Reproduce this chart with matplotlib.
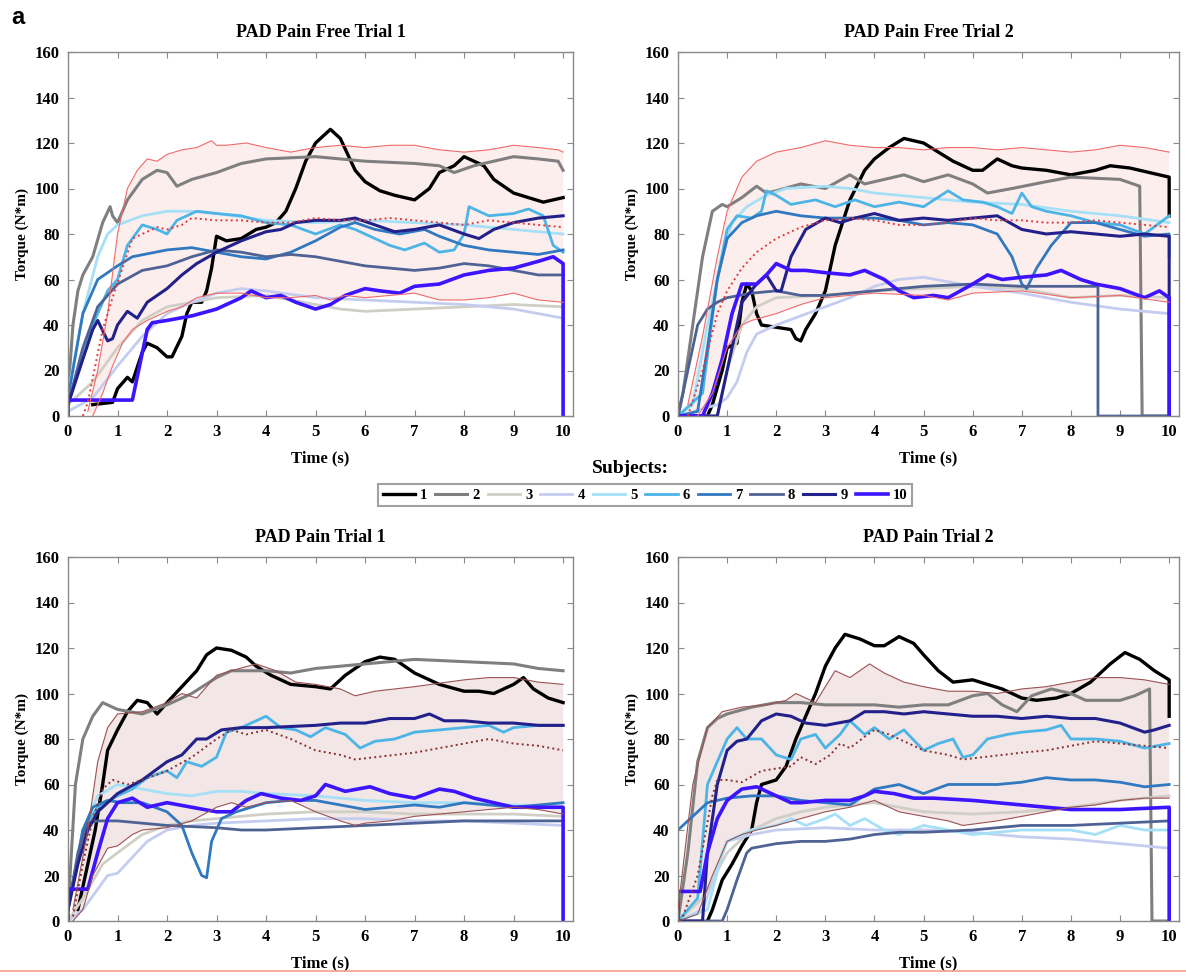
import matplotlib
matplotlib.use("Agg")
import matplotlib.pyplot as plt
from matplotlib.lines import Line2D

# ---------------- data: (time s, torque N*m) pairs ----------------
titles = ["PAD Pain Free Trial 1", "PAD Pain Free Trial 2", "PAD Pain Trial 1", "PAD Pain Trial 2"]
subjects = ["1", "2", "3", "4", "5", "6", "7", "8", "9", "10"]

# --- Pain Free Trial 1
pf1_upper = [(0.4, 2), (0.6, 20), (0.8, 45), (1.0, 80), (1.2, 100), (1.4, 108), (1.6, 113), (1.8, 112),
             (2.0, 115), (2.3, 117), (2.6, 118), (2.9, 121), (3.0, 119), (3.2, 119), (3.6, 120), (4.0, 118),
             (4.5, 116), (5.0, 118), (5.5, 119), (6.0, 118), (6.5, 119), (7.0, 119), (7.5, 117), (8.0, 116),
             (8.5, 117), (9.0, 119), (9.5, 118), (9.9, 117), (10.0, 116)]
pf1_lower = [(0.5, 0), (0.7, 10), (0.9, 22), (1.1, 32), (1.3, 38), (1.6, 42), (2.0, 46), (2.3, 48),
             (2.6, 52), (3.0, 54), (3.5, 54), (4.0, 52), (4.5, 52), (5.0, 53), (5.3, 51), (5.6, 53),
             (6.0, 52), (6.5, 53), (7.0, 54), (7.5, 51), (8.0, 51), (8.5, 52), (9.0, 54), (9.5, 51), (10.0, 50)]
pf1_mean = [(0.3, 0), (0.4, 6), (0.7, 38), (0.9, 52), (1.1, 65), (1.3, 78), (1.5, 80), (1.8, 83), (2.0, 82),
            (2.3, 84), (2.5, 87), (3.0, 86), (3.5, 86), (4.0, 85), (4.5, 85), (5.0, 87), (5.5, 86), (6.0, 86),
            (6.5, 87), (7.0, 86), (7.5, 85), (8.0, 84), (8.5, 86), (9.0, 85), (9.5, 84), (10.0, 83)]
pf1_s1 = [(0.5, 5), (0.9, 6), (1.0, 12), (1.2, 17), (1.3, 15), (1.5, 28), (1.6, 32), (1.8, 30), (2.0, 26),
          (2.1, 26), (2.3, 35), (2.4, 45), (2.5, 50), (2.7, 50), (2.8, 55), (2.9, 65), (3.0, 79), (3.2, 77),
          (3.5, 78), (3.8, 82), (4.0, 83), (4.2, 85), (4.4, 90), (4.6, 100), (4.8, 112), (5.0, 120), (5.3, 126),
          (5.5, 122), (5.8, 108), (6.0, 103), (6.3, 99), (6.6, 97), (7.0, 95), (7.3, 100), (7.5, 107),
          (7.8, 110), (8.0, 114), (8.2, 112), (8.4, 110), (8.6, 104), (9.0, 98), (9.3, 96), (9.6, 94),
          (9.8, 95), (10.0, 96)]
pf1_s2 = [(0.0, 10), (0.1, 40), (0.2, 55), (0.3, 62), (0.5, 70), (0.7, 85), (0.85, 92), (0.9, 88), (1.0, 85),
          (1.2, 95), (1.5, 104), (1.8, 108), (2.0, 107), (2.2, 101), (2.5, 104), (3.0, 107), (3.5, 111),
          (4.0, 113), (5.0, 114), (6.0, 112), (7.0, 111), (7.5, 110), (7.8, 107), (8.2, 110), (9.0, 114),
          (9.5, 113), (9.9, 112), (10.0, 108)]
pf1_s3 = [(0.0, 5), (0.5, 15), (1.0, 30), (1.5, 42), (2.0, 48), (3.0, 52), (4.0, 53), (5.0, 49), (5.5, 47),
          (6.0, 46), (7.0, 47), (8.0, 48), (9.0, 49), (10.0, 48)]
pf1_s4 = [(0.0, 2), (0.5, 8), (1.0, 22), (1.5, 35), (2.0, 45), (2.5, 50), (3.0, 54), (3.5, 56), (4.0, 55),
          (5.0, 52), (6.0, 51), (7.0, 50), (8.0, 49), (9.0, 47), (10.0, 43)]
pf1_s5 = [(0.0, 10), (0.3, 45), (0.6, 70), (0.8, 80), (1.0, 84), (1.5, 88), (2.0, 90), (2.5, 90), (3.0, 89),
          (4.0, 86), (5.0, 85), (6.0, 86), (7.0, 85), (8.0, 84), (9.0, 82), (10.0, 80)]
pf1_s6 = [(0.0, 5), (0.5, 40), (0.8, 55), (1.0, 60), (1.2, 75), (1.5, 84), (1.8, 82), (2.0, 80), (2.2, 86),
          (2.6, 90), (3.0, 89), (3.5, 88), (4.0, 85), (4.5, 84), (5.0, 80), (5.5, 84), (5.8, 82), (6.2, 78),
          (6.5, 75), (6.8, 73), (7.2, 76), (7.5, 72), (7.8, 73), (8.0, 80), (8.1, 92), (8.3, 90), (8.5, 88),
          (9.0, 89), (9.3, 91), (9.6, 88), (9.8, 75), (10.0, 72)]
pf1_s7 = [(0.0, 8), (0.3, 45), (0.6, 60), (1.0, 66), (1.3, 70), (2.0, 73), (2.5, 74), (3.0, 72), (3.5, 70),
          (4.0, 69), (4.5, 72), (5.0, 77), (5.5, 83), (5.8, 85), (6.2, 82), (6.7, 80), (7.2, 82), (7.5, 79),
          (8.0, 75), (8.5, 73), (9.0, 72), (9.5, 71), (10.0, 73)]
pf1_s8 = [(0.0, 5), (0.3, 30), (0.6, 48), (1.0, 58), (1.5, 64), (2.0, 66), (2.5, 70), (3.0, 73), (3.5, 72),
          (4.0, 70), (4.5, 71), (5.0, 70), (5.5, 68), (6.0, 66), (6.5, 65), (7.0, 64), (7.5, 65), (8.0, 67),
          (8.5, 66), (9.0, 64), (9.5, 62), (10.0, 62)]
pf1_s9 = [(0.0, 5), (0.3, 25), (0.5, 38), (0.6, 42), (0.8, 33), (0.9, 34), (1.0, 40), (1.2, 46), (1.4, 43),
          (1.6, 50), (2.0, 56), (2.3, 62), (2.6, 67), (3.0, 72), (3.5, 77), (4.0, 81), (4.3, 82), (4.6, 85),
          (5.0, 86), (5.5, 86), (5.8, 87), (6.2, 84), (6.6, 81), (7.0, 82), (7.5, 84), (8.0, 80), (8.3, 78),
          (8.6, 82), (9.0, 85), (9.5, 87), (10.0, 88)]
pf1_s10 = [(0.0, 0), (0.0, 7), (1.3, 7), (1.6, 38), (1.7, 41), (2.0, 42), (2.5, 44), (3.0, 47), (3.5, 52),
           (3.7, 55), (4.0, 52), (4.3, 53), (4.6, 50), (5.0, 47), (5.3, 49), (5.6, 53), (6.0, 56), (6.3, 55),
           (6.7, 54), (7.0, 57), (7.5, 58), (8.0, 62), (8.5, 64), (9.0, 65), (9.5, 68), (9.8, 70), (10.0, 67),
           (10.0, 0)]

# --- Pain Free Trial 2
pf2_upper = [(0.2, 5), (0.5, 35), (0.8, 70), (1.0, 90), (1.3, 105), (1.6, 112), (2.0, 116), (2.5, 118),
             (3.0, 121), (3.5, 119), (4.0, 118), (4.5, 118), (5.0, 117), (5.5, 118), (6.0, 118), (6.5, 117),
             (7.0, 118), (7.5, 117), (8.0, 116), (8.5, 117), (9.0, 119), (9.5, 118), (10.0, 116)]
pf2_lower = [(0.4, 0), (0.7, 10), (1.0, 30), (1.3, 40), (1.5, 42), (2.0, 45), (2.5, 49), (3.0, 52),
             (4.0, 54), (5.0, 53), (5.5, 51), (6.0, 54), (7.0, 55), (8.0, 52), (9.0, 53), (10.0, 50)]
pf2_mean = [(0.2, 0), (0.5, 20), (0.8, 45), (1.0, 55), (1.3, 65), (1.6, 72), (2.0, 78), (2.5, 83), (3.0, 86),
            (3.5, 87), (4.0, 86), (4.5, 84), (5.0, 84), (5.5, 85), (6.0, 87), (6.5, 86), (7.0, 86), (7.5, 85),
            (8.0, 85), (8.5, 86), (9.0, 85), (9.5, 84), (10.0, 83)]
pf2_s1 = [(0.0, 0), (0.6, 0), (0.7, 5), (0.9, 20), (1.0, 30), (1.2, 32), (1.3, 50), (1.4, 58), (1.5, 55),
          (1.6, 45), (1.7, 40), (2.0, 39), (2.3, 38), (2.4, 34), (2.5, 33), (2.6, 38), (2.8, 45), (3.0, 55),
          (3.2, 75), (3.5, 95), (3.8, 108), (4.0, 113), (4.3, 118), (4.6, 122), (4.8, 121), (5.0, 120),
          (5.3, 116), (5.6, 112), (6.0, 108), (6.2, 108), (6.5, 113), (6.8, 110), (7.0, 109), (7.5, 108),
          (8.0, 106), (8.5, 108), (8.8, 110), (9.2, 109), (9.6, 107), (10.0, 105), (10.0, 88)]
pf2_s2 = [(0.0, 0), (0.1, 10), (0.3, 40), (0.5, 70), (0.7, 90), (0.9, 93), (1.0, 92), (1.3, 96), (1.6, 101),
          (1.8, 98), (2.0, 99), (2.5, 102), (3.0, 100), (3.5, 106), (3.8, 102), (4.2, 104), (4.6, 106),
          (5.0, 103), (5.5, 106), (6.0, 102), (6.3, 98), (6.8, 100), (7.5, 103), (8.0, 105), (9.0, 104),
          (9.4, 101), (9.45, 0), (10.0, 0)]
pf2_s3 = [(0.0, 0), (0.8, 0), (1.0, 20), (1.3, 40), (1.6, 48), (2.0, 52), (3.0, 53), (4.0, 55), (5.0, 56),
          (6.0, 57), (7.0, 56), (8.0, 52), (9.0, 53), (10.0, 52)]
pf2_s4 = [(0.0, 0), (0.8, 5), (1.0, 8), (1.2, 15), (1.4, 28), (1.6, 36), (2.0, 40), (2.5, 44), (3.0, 48),
          (3.5, 52), (4.0, 57), (4.5, 60), (5.0, 61), (6.0, 57), (7.0, 54), (8.0, 50), (9.0, 47), (10.0, 45)]
pf2_s5 = [(0.0, 0), (0.3, 5), (0.6, 40), (0.9, 70), (1.1, 85), (1.4, 92), (1.8, 97), (2.2, 100), (3.0, 101),
          (3.5, 100), (4.0, 98), (5.0, 96), (6.0, 94), (7.0, 93), (8.0, 90), (9.0, 88), (10.0, 85)]
pf2_s6 = [(0.0, 0), (0.5, 10), (0.8, 60), (1.0, 82), (1.2, 88), (1.5, 87), (1.7, 90), (1.8, 99), (2.0, 97),
          (2.3, 93), (2.8, 95), (3.2, 92), (3.6, 95), (4.0, 92), (4.5, 94), (5.0, 92), (5.5, 99), (5.8, 95),
          (6.2, 94), (6.5, 92), (6.8, 89), (7.0, 98), (7.2, 92), (7.5, 90), (8.0, 88), (8.5, 85), (9.0, 84),
          (9.5, 80), (10.0, 88)]
pf2_s7 = [(0.0, 0), (0.4, 2), (0.6, 30), (0.8, 60), (1.0, 78), (1.3, 85), (1.6, 88), (2.0, 90), (2.5, 88),
          (3.0, 87), (3.5, 87), (4.0, 87), (4.5, 86), (5.0, 84), (5.5, 85), (6.0, 84), (6.5, 80), (6.8, 70),
          (7.0, 58), (7.1, 56), (7.3, 65), (7.6, 75), (8.0, 85), (8.5, 85), (9.0, 82), (9.5, 79), (10.0, 80),
          (10.0, 70)]
pf2_s8 = [(0.0, 0), (0.2, 20), (0.4, 40), (0.6, 47), (0.8, 50), (1.0, 52), (1.5, 54), (2.0, 55), (2.5, 53),
          (3.0, 53), (4.0, 55), (5.0, 57), (6.0, 58), (7.0, 57), (8.0, 57), (8.55, 57), (8.55, 0), (10.0, 0)]
pf2_s9 = [(0.0, 0), (0.8, 0), (1.0, 20), (1.3, 50), (1.6, 58), (1.8, 62), (2.0, 55), (2.1, 55), (2.3, 70),
          (2.6, 82), (3.0, 87), (3.3, 85), (3.6, 87), (4.0, 89), (4.5, 86), (5.0, 87), (5.5, 86), (6.0, 87),
          (6.5, 88), (7.0, 82), (7.5, 80), (8.0, 81), (8.5, 80), (9.0, 79), (9.5, 80), (10.0, 79), (10.0, 0)]
pf2_s10 = [(0.0, 0), (0.5, 0), (0.7, 10), (0.9, 25), (1.1, 45), (1.3, 58), (1.6, 58), (1.8, 62), (2.0, 67),
           (2.3, 64), (2.6, 64), (3.0, 63), (3.5, 62), (3.8, 64), (4.2, 60), (4.5, 55), (4.8, 52), (5.2, 53),
           (5.5, 52), (6.0, 58), (6.3, 62), (6.6, 60), (7.0, 61), (7.5, 62), (7.8, 64), (8.2, 60), (8.5, 58),
           (9.0, 56), (9.5, 52), (9.8, 55), (10.0, 52), (10.0, 0)]

# --- Pain Trial 1
p1_upper = [(0.1, 5), (0.4, 40), (0.6, 70), (0.8, 85), (1.0, 91), (1.5, 92), (2.0, 96), (2.3, 100), (2.6, 98),
            (3.0, 108), (3.3, 110), (3.8, 113), (4.2, 110), (4.6, 105), (5.0, 104), (5.5, 102), (5.8, 99),
            (6.2, 101), (7.0, 103), (8.0, 106), (8.5, 107), (9.0, 107), (9.5, 105), (10.0, 104)]
p1_lower = [(0.1, 0), (0.3, 5), (0.5, 20), (0.8, 32), (1.0, 33), (1.3, 38), (1.5, 40), (2.0, 41), (2.5, 44),
            (3.0, 50), (3.3, 52), (3.6, 50), (4.0, 52), (4.5, 53), (5.0, 48), (5.5, 44), (5.8, 42), (6.0, 43),
            (6.5, 44), (7.0, 46), (7.5, 47), (8.0, 48), (8.5, 49), (9.0, 50), (9.5, 49), (10.0, 47)]
p1_mean = [(0.1, 2), (0.3, 25), (0.5, 45), (0.7, 58), (0.9, 62), (1.2, 60), (1.5, 62), (2.0, 66), (2.5, 72),
           (3.0, 80), (3.3, 84), (3.6, 82), (4.0, 84), (4.5, 80), (5.0, 75), (5.5, 73), (5.8, 71), (6.2, 72),
           (7.0, 74), (7.5, 76), (8.0, 78), (8.5, 80), (9.0, 78), (9.5, 77), (10.0, 75)]
p1_s1 = [(0.2, 5), (0.4, 25), (0.55, 40), (0.7, 60), (0.8, 75), (1.0, 84), (1.2, 92), (1.4, 97), (1.6, 96),
         (1.8, 91), (2.0, 96), (2.3, 103), (2.6, 110), (2.8, 117), (3.0, 120), (3.3, 119), (3.6, 116),
         (3.8, 112), (4.1, 108), (4.5, 104), (5.0, 103), (5.3, 102), (5.6, 108), (6.0, 114), (6.3, 116),
         (6.6, 115), (7.0, 109), (7.5, 104), (8.0, 101), (8.3, 101), (8.6, 100), (9.0, 104), (9.2, 107),
         (9.4, 102), (9.7, 98), (10.0, 96)]
p1_s2 = [(0.0, 5), (0.15, 60), (0.3, 80), (0.5, 90), (0.7, 96), (1.0, 93), (1.5, 91), (2.0, 95), (2.5, 100),
         (3.0, 107), (3.3, 110), (4.0, 110), (4.5, 109), (5.0, 111), (6.0, 113), (7.0, 115), (8.0, 114),
         (9.0, 113), (9.5, 111), (10.0, 110)]
p1_s3 = [(0.0, 0), (0.3, 10), (0.7, 25), (1.0, 30), (1.5, 38), (2.0, 42), (2.5, 44), (3.0, 45), (4.0, 47),
         (5.0, 48), (6.0, 48), (7.0, 47), (8.0, 47), (9.0, 47), (10.0, 46)]
p1_s4 = [(0.0, 0), (0.3, 5), (0.8, 20), (1.0, 21), (1.3, 28), (1.6, 35), (2.0, 40), (2.5, 42), (3.0, 43),
         (4.0, 44), (5.0, 45), (6.0, 45), (7.0, 44), (8.0, 44), (9.0, 43), (10.0, 42)]
p1_s5 = [(0.0, 5), (0.3, 40), (0.6, 55), (1.0, 60), (1.5, 58), (2.0, 56), (2.5, 55), (3.0, 57), (3.5, 57),
         (4.0, 56), (5.0, 55), (6.0, 53), (7.0, 52), (8.0, 52), (9.0, 51), (10.0, 50)]
p1_s6 = [(0.0, 5), (0.3, 40), (0.6, 50), (1.0, 55), (1.3, 58), (1.6, 63), (2.0, 66), (2.2, 63), (2.4, 70),
         (2.7, 68), (3.0, 72), (3.2, 83), (3.5, 85), (3.8, 88), (4.0, 90), (4.3, 85), (4.6, 84), (4.9, 81),
         (5.2, 85), (5.6, 82), (5.9, 76), (6.2, 79), (6.6, 80), (7.0, 83), (7.5, 84), (8.0, 85), (8.5, 86),
         (8.8, 83), (9.0, 85), (9.5, 86), (10.0, 86)]
p1_s7 = [(0.0, 5), (0.3, 40), (0.5, 50), (0.8, 53), (1.1, 52), (1.5, 52), (2.0, 48), (2.3, 42), (2.5, 30),
         (2.7, 20), (2.8, 19), (2.9, 35), (3.1, 45), (3.4, 48), (4.0, 52), (4.5, 53), (5.0, 53), (5.5, 51),
         (6.0, 49), (6.5, 50), (7.0, 51), (7.5, 50), (8.0, 52), (8.5, 51), (9.0, 50), (9.5, 51), (10.0, 52)]
p1_s8 = [(0.0, 5), (0.2, 30), (0.4, 43), (0.6, 44), (1.0, 44), (1.5, 43), (2.0, 42), (3.0, 41), (3.5, 40),
         (4.0, 40), (5.0, 41), (6.0, 42), (7.0, 43), (8.0, 44), (9.0, 44), (10.0, 44)]
p1_s9 = [(0.0, 5), (0.2, 25), (0.4, 40), (0.6, 48), (0.8, 52), (1.0, 56), (1.5, 62), (2.0, 70), (2.3, 73),
         (2.6, 80), (2.8, 80), (3.1, 84), (3.5, 85), (4.0, 85), (5.0, 86), (5.5, 87), (6.0, 87), (6.5, 89),
         (7.0, 89), (7.3, 91), (7.6, 88), (8.0, 88), (8.5, 87), (9.0, 87), (9.5, 86), (10.0, 86)]
p1_s10 = [(0.0, 0), (0.0, 14), (0.4, 14), (0.6, 30), (0.8, 45), (1.0, 52), (1.3, 54), (1.6, 50), (2.0, 52),
          (2.5, 50), (3.0, 48), (3.3, 48), (3.6, 53), (3.9, 56), (4.3, 54), (4.7, 53), (5.0, 55), (5.2, 60),
          (5.6, 57), (6.1, 59), (6.5, 56), (7.0, 54), (7.5, 58), (7.8, 57), (8.2, 54), (8.6, 52), (9.0, 50),
          (9.5, 50), (10.0, 50), (10.0, 0)]

# --- Pain Trial 2
p2_upper = [(0.0, 5), (0.3, 60), (0.6, 85), (0.9, 92), (1.3, 94), (1.8, 95), (2.2, 97), (2.4, 100), (2.8, 96),
            (3.2, 110), (3.5, 107), (3.9, 113), (4.2, 109), (4.6, 105), (5.0, 103), (5.5, 101), (6.0, 101),
            (6.5, 100), (7.0, 102), (7.5, 103), (8.0, 105), (8.5, 107), (9.0, 107), (9.5, 106), (10.0, 104)]
p2_lower = [(0.0, 0), (0.4, 3), (0.7, 20), (1.0, 35), (1.3, 38), (1.6, 40), (2.0, 42), (2.5, 45), (3.0, 48),
            (3.5, 50), (4.0, 53), (4.5, 48), (5.0, 46), (5.5, 44), (5.8, 42), (6.5, 44), (7.0, 46), (7.5, 48),
            (8.0, 50), (8.5, 51), (9.0, 53), (9.5, 54), (10.0, 54)]
p2_mean = [(0.1, 2), (0.4, 20), (0.7, 55), (0.8, 62), (1.0, 62), (1.3, 61), (1.7, 66), (2.0, 67), (2.3, 68),
           (2.5, 72), (2.8, 69), (3.1, 73), (3.3, 78), (3.5, 76), (3.8, 81), (4.0, 84), (4.3, 82), (4.7, 78),
           (5.0, 75), (5.5, 73), (5.8, 71), (6.2, 72), (7.0, 74), (7.5, 75), (8.0, 77), (8.5, 79), (9.0, 78),
           (9.5, 77), (10.0, 76)]
p2_s1 = [(0.6, 0), (0.7, 5), (0.9, 18), (1.1, 25), (1.3, 33), (1.5, 40), (1.6, 52), (1.7, 60), (2.0, 62),
         (2.2, 68), (2.4, 80), (2.6, 90), (2.8, 100), (3.0, 112), (3.2, 120), (3.4, 126), (3.7, 124),
         (4.0, 121), (4.2, 121), (4.5, 125), (4.8, 122), (5.0, 117), (5.3, 110), (5.6, 105), (6.0, 106),
         (6.3, 104), (6.6, 102), (7.0, 98), (7.3, 97), (7.7, 98), (8.0, 100), (8.4, 105), (8.8, 113),
         (9.1, 118), (9.4, 115), (9.7, 110), (10.0, 106), (10.0, 90)]
p2_s2 = [(0.0, 0), (0.2, 30), (0.4, 70), (0.6, 85), (0.8, 89), (1.0, 91), (1.5, 94), (2.0, 96), (2.5, 96),
         (3.0, 95), (4.0, 95), (4.5, 94), (5.0, 95), (5.5, 95), (6.0, 99), (6.3, 100), (6.6, 95), (6.9, 92),
         (7.2, 99), (7.6, 102), (8.0, 100), (8.3, 97), (9.0, 97), (9.3, 99), (9.6, 102), (9.65, 0), (10.0, 0)]
p2_s3 = [(0.0, 0), (0.5, 10), (1.0, 30), (1.5, 40), (2.0, 45), (2.5, 48), (3.0, 50), (3.5, 51), (4.0, 52),
         (5.0, 48), (6.0, 47), (7.0, 48), (8.0, 50), (9.0, 53), (10.0, 55)]
p2_s4 = [(0.0, 0), (0.5, 5), (1.0, 35), (1.5, 38), (2.0, 40), (3.0, 41), (4.0, 40), (5.0, 40), (6.0, 39),
         (7.0, 37), (8.0, 36), (9.0, 34), (10.0, 32)]
p2_s5 = [(0.0, 0), (0.6, 5), (0.9, 30), (1.0, 35), (1.5, 40), (2.0, 42), (2.3, 45), (2.6, 42), (3.0, 45),
         (3.2, 47), (3.5, 42), (3.8, 45), (4.2, 40), (4.5, 38), (5.0, 42), (5.5, 40), (6.0, 38), (7.0, 40),
         (8.0, 40), (8.5, 38), (9.0, 42), (9.5, 40), (10.0, 40)]
p2_s6 = [(0.0, 0), (0.4, 10), (0.6, 60), (0.8, 70), (1.0, 80), (1.2, 85), (1.4, 80), (1.7, 80), (2.0, 73),
         (2.3, 71), (2.5, 80), (2.8, 82), (3.0, 76), (3.3, 82), (3.5, 88), (3.8, 82), (4.0, 85), (4.3, 80),
         (4.6, 84), (5.0, 75), (5.3, 78), (5.6, 80), (5.8, 72), (6.0, 73), (6.3, 80), (6.7, 82), (7.0, 83),
         (7.5, 84), (7.8, 86), (8.0, 80), (8.5, 80), (9.0, 79), (9.5, 76), (10.0, 78)]
p2_s7 = [(0.0, 40), (0.3, 46), (0.6, 52), (1.0, 54), (1.5, 55), (2.0, 55), (2.5, 53), (3.0, 52), (3.5, 51),
         (4.0, 58), (4.5, 60), (5.0, 56), (5.5, 60), (6.0, 60), (6.5, 60), (7.0, 61), (7.5, 63), (8.0, 62),
         (8.5, 62), (9.0, 61), (9.5, 59), (10.0, 60)]
p2_s8 = [(0.0, 0), (0.9, 0), (1.0, 5), (1.2, 18), (1.4, 30), (1.5, 32), (2.0, 34), (2.5, 35), (3.0, 35),
         (3.5, 36), (4.0, 38), (4.5, 39), (5.0, 39), (6.0, 40), (7.0, 42), (8.0, 42), (9.0, 43), (10.0, 44)]
p2_s9 = [(0.0, 0), (0.5, 0), (0.6, 30), (0.8, 60), (1.0, 75), (1.2, 79), (1.4, 80), (1.7, 88), (2.0, 91),
         (2.3, 90), (2.6, 87), (3.0, 86), (3.5, 88), (3.8, 92), (4.2, 92), (4.6, 91), (5.0, 92), (5.5, 91),
         (6.0, 90), (6.5, 90), (7.0, 89), (7.5, 90), (8.0, 89), (8.5, 89), (9.0, 87), (9.5, 83), (9.7, 84),
         (10.0, 86)]
p2_s10 = [(0.0, 0), (0.0, 13), (0.45, 13), (0.6, 30), (0.8, 45), (1.0, 53), (1.3, 58), (1.6, 59), (1.8, 57),
          (2.0, 55), (2.3, 52), (2.5, 52), (3.0, 53), (3.5, 53), (3.8, 55), (4.0, 57), (4.4, 56), (4.8, 54),
          (5.2, 54), (6.0, 53), (7.0, 51), (7.5, 50), (8.0, 49), (9.0, 49), (10.0, 50), (10.0, 0)]

# ---------------- styling ----------------
colors = ['#000000', '#7f7f7f', '#cfcfc6', '#c4cdf0', '#a6e0f7',
          '#4cb4e6', '#3078c0', '#4f6294', '#22208a', '#3c14ff']
widths = [2.4, 2.2, 2.0, 2.0, 2.0, 2.0, 2.0, 2.0, 2.2, 2.6]

serif = 'Liberation Serif'
plt.rcParams['font.family'] = serif
plt.rcParams['font.weight'] = 'bold'

panels = [
    (pf1_upper, pf1_lower, pf1_mean, [pf1_s1, pf1_s2, pf1_s3, pf1_s4, pf1_s5, pf1_s6, pf1_s7, pf1_s8, pf1_s9, pf1_s10]),
    (pf2_upper, pf2_lower, pf2_mean, [pf2_s1, pf2_s2, pf2_s3, pf2_s4, pf2_s5, pf2_s6, pf2_s7, pf2_s8, pf2_s9, pf2_s10]),
    (p1_upper, p1_lower, p1_mean, [p1_s1, p1_s2, p1_s3, p1_s4, p1_s5, p1_s6, p1_s7, p1_s8, p1_s9, p1_s10]),
    (p2_upper, p2_lower, p2_mean, [p2_s1, p2_s2, p2_s3, p2_s4, p2_s5, p2_s6, p2_s7, p2_s8, p2_s9, p2_s10]),
]
band_line = ['#f06a6a', '#f06a6a', '#9c5252', '#9c5252']
band_mean = ['#e23a3a', '#e23a3a', '#8a3030', '#8a3030']
band_fill = ['#fdeeee', '#fdeeee', '#f2e6e6', '#f2e6e6']

W, H = 1186, 976
fig = plt.figure(figsize=(W / 100, H / 100), dpi=100)
boxes = [(68, 52, 505), (678, 52, 501), (68, 557, 505), (678, 557, 501)]
axh = 364


def xy(pairs):
    return [p[0] for p in pairs], [p[1] for p in pairs]


for i, (box, panel) in enumerate(zip(boxes, panels)):
    left, top, width = box
    ax = fig.add_axes([left / W, 1 - (top + axh) / H, width / W, axh / H])
    upper, lower, mean, subs = panel

    ut, uy = xy(upper)
    lt, ly = xy(lower)
    ax.fill(ut + lt[::-1], uy + ly[::-1], color=band_fill[i], lw=0, zorder=1)

    for j, s in enumerate(subs):
        t, y = xy(s)
        ax.plot(t, y, color=colors[j], lw=widths[j], zorder=2 + j * 0.01, solid_joinstyle='round')

    ax.plot(ut, uy, color=band_line[i], lw=0.8, zorder=3)
    ax.plot(lt, ly, color=band_line[i], lw=0.8, zorder=3)
    mt, my = xy(mean)
    ax.plot(mt, my, color=band_mean[i], lw=1.4, ls=':', zorder=3)

    ax.set_xlim(0, 10.2)
    ax.set_ylim(0, 160)
    ax.set_xticks(range(0, 11))
    ax.set_yticks(range(0, 161, 20))
    ax.tick_params(direction='in', top=True, right=True, length=4, width=0.8,
                   color='#8a8a8a', labelsize=12, pad=6)
    for lab in ax.get_xticklabels() + ax.get_yticklabels():
        lab.set_fontweight('bold')
    for sp in ax.spines.values():
        sp.set_color('#8a8a8a')
        sp.set_linewidth(1.0)
    ax.set_title(titles[i], fontsize=13, fontweight='bold', pad=11)
    ax.set_xlabel('Time (s)', fontsize=12, fontweight='bold', labelpad=7)
    ax.set_ylabel('Torque (N*m)', fontsize=11, fontweight='bold', labelpad=4)

# shared legend
handles = [Line2D([0], [0], color=colors[k], lw=widths[k]) for k in range(10)]
leg = fig.legend(handles, subjects, loc='center', bbox_to_anchor=(645 / W, 1 - 495 / H), ncol=10,
                 frameon=True, fancybox=False, handlelength=2.2, handletextpad=0.35, columnspacing=0.55,
                 borderpad=0.3, borderaxespad=0, prop={'family': serif, 'weight': 'bold', 'size': 10.5})
leg.get_frame().set_edgecolor('#8a8a8a')
leg.get_frame().set_linewidth(1.5)
fig.text(630 / W, 1 - 468 / H, 'Subjects:', ha='center', va='center', fontsize=14,
         fontweight='bold', family=serif)

fig.text(18 / W, 1 - 18 / H, 'a', ha='center', va='center', fontsize=17, fontweight='bold',
         family='Liberation Sans')

# thin coloured rule at the bottom edge of the original page
fig.add_artist(Line2D([0, 1], [5 / H, 5 / H], color='#f2a08c', lw=1.2, transform=fig.transFigure))

fig.savefig('out.png', dpi=100)
